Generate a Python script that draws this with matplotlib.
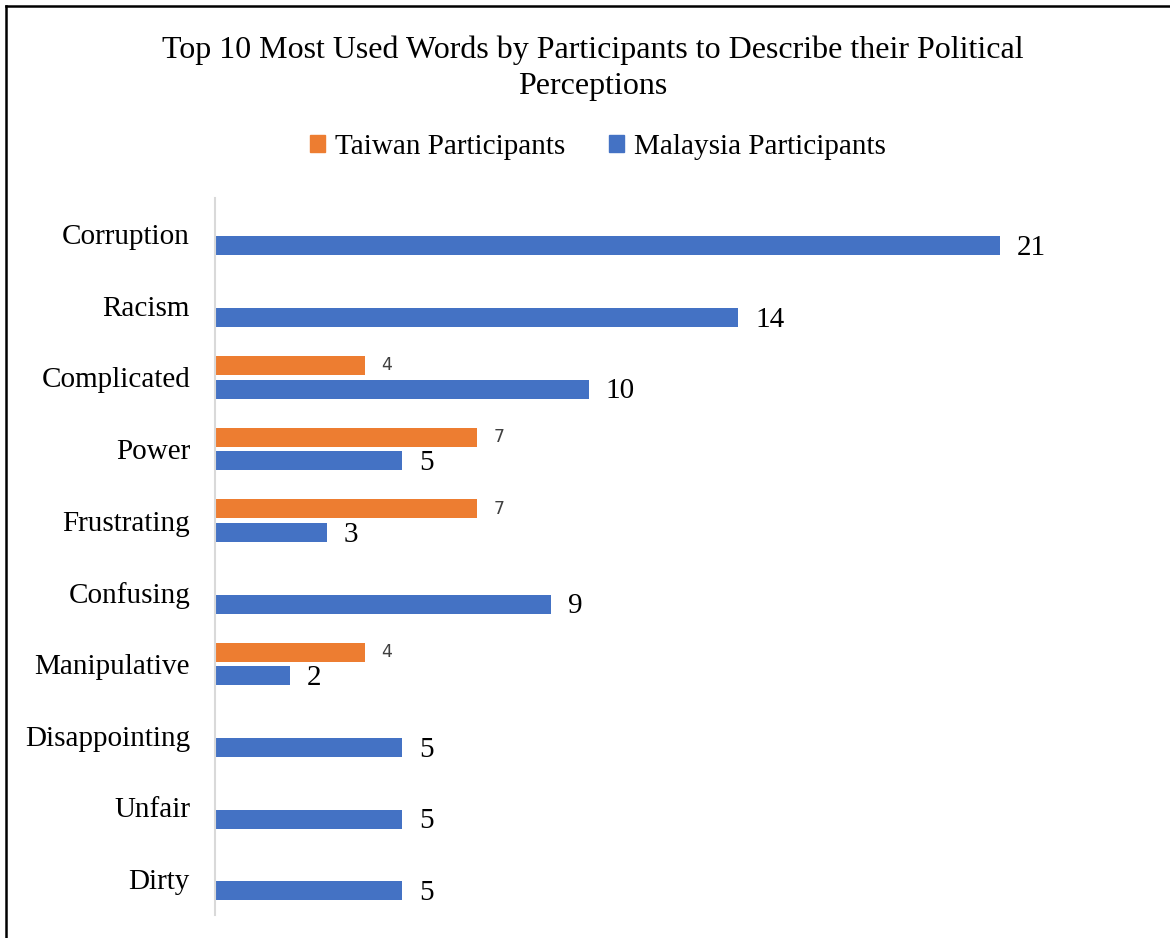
import matplotlib.pyplot as plt
import numpy as np
from matplotlib.lines import Line2D
from matplotlib.patches import Patch

words = ["Corruption", "Racism", "Complicated", "Power", "Frustrating",
         "Confusing", "Manipulative", "Disappointing", "Unfair", "Dirty"]
taiwan = [0, 0, 4, 7, 7, 0, 4, 0, 0, 0]
malaysia = [21, 14, 10, 5, 3, 9, 2, 5, 5, 5]

blue = "#4472C4"
orange = "#ED7D31"
serif = "Liberation Serif"

fig = plt.figure(figsize=(11.7, 9.38), dpi=100)
ax = fig.add_axes([0.1838, 0.0245, 0.7987, 0.7644])

y = np.arange(len(words))
h = 0.265
off = 0.165

for i, (t, m) in enumerate(zip(taiwan, malaysia)):
    if t:
        ax.barh(i - off, t, height=h, color=orange)
        ax.text(t + 0.45, i - off, str(t), va="center", ha="left",
                fontsize=12.5, color="#404040", family="DejaVu Sans")
    ax.barh(i + off, m, height=h, color=blue)
    ax.text(m + 0.45, i + off + 0.03, str(m), va="center", ha="left",
            fontsize=21, color="black", family=serif)

ax.set_xlim(0, 25)
ax.set_ylim(len(words) - 0.5, -0.5)
ax.set_yticks(y)
ax.set_yticklabels(words, family=serif, fontsize=21)
ax.tick_params(axis="y", length=0, pad=18)
ax.set_xticks([])
for s in ["top", "right", "bottom"]:
    ax.spines[s].set_visible(False)
ax.spines["left"].set_color("#d9d9d9")
ax.spines["left"].set_linewidth(1.5)

fig.text(0.507, 0.9275,
         "Top 10 Most Used Words by Participants to Describe their Political\nPerceptions",
         ha="center", va="center", family=serif, fontsize=23, linespacing=1.32)

handles = [Patch(color=orange, label="Taiwan Participants"),
           Patch(color=blue, label="Malaysia Participants")]
fig.legend(handles=handles, loc="center", bbox_to_anchor=(0.511, 0.8435), ncol=2,
           frameon=False, prop={"family": serif, "size": 21},
           handlelength=0.5, handleheight=0.5, handletextpad=0.35, columnspacing=1.5)

# outer border: top and left edges only
fig.add_artist(Line2D([0.0055, 1.0], [0.9935, 0.9935], transform=fig.transFigure,
                      color="black", linewidth=1.8))
fig.add_artist(Line2D([0.0055, 0.0055], [0.0, 0.9935], transform=fig.transFigure,
                      color="black", linewidth=1.8))

fig.savefig("out.png", dpi=100)
